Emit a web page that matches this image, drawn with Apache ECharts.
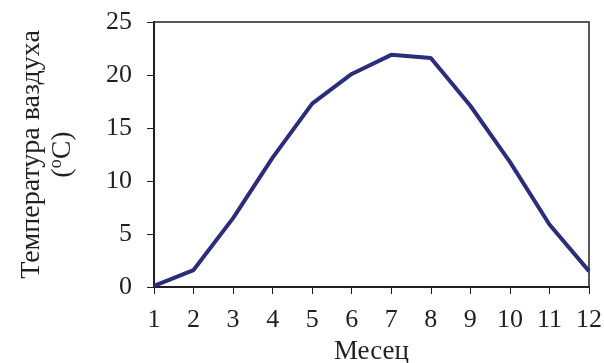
<!DOCTYPE html>
<html><head><meta charset="utf-8">
<script src="https://cdn.jsdelivr.net/npm/echarts@6/dist/echarts.min.js"></script>
<style>html,body{margin:0;padding:0;background:#fff}#c{width:604px;height:363px}</style>
</head><body><div id="c"></div>
<script>
const months = ['1','2','3','4','5','6','7','8','9','10','11','12'];
const temps = [0.1, 1.6, 6.5, 12.2, 17.3, 20.1, 21.9, 21.6, 17.1, 11.8, 5.9, 1.5];
const yTicks = {min: 0, max: 25, interval: 5};
const xName = 'Месец';
const yNameLine1 = 'Температура ваздуха';

const font = '"Liberation Serif", "Times New Roman", serif';
const txt = '#231F20';
const chart = echarts.init(document.getElementById('c'), null, {renderer: 'canvas'});
chart.setOption({
  animation: false,
  textStyle: {fontFamily: font},
  grid: {left: 154, right: 15, top: 22, bottom: 76, outerBoundsMode: 'none', containLabel: false,
         show: true, borderColor: '#231F20', borderWidth: 1.5, backgroundColor: 'transparent'},
  xAxis: {
    type: 'category', data: months, boundaryGap: false,
    name: xName, nameLocation: 'middle', nameGap: 51,
    nameTextStyle: {fontFamily: font, fontSize: 27, color: txt},
    axisLine: {lineStyle: {color: '#231F20', width: 2}},
    axisTick: {alignWithLabel: true, length: 7, lineStyle: {color: '#231F20', width: 1}},
    axisLabel: {fontFamily: font, fontSize: 26, color: txt, margin: 20},
    splitLine: {show: false}
  },
  yAxis: {
    type: 'value', min: yTicks.min, max: yTicks.max, interval: yTicks.interval,
    name: '{a|' + yNameLine1 + '}\n{a|(}{s|o}{a|C)}', nameLocation: 'middle', nameGap: 76,
    nameTextStyle: {fontFamily: font, color: txt, lineHeight: 31,
      rich: {a: {fontFamily: font, fontSize: 28, color: txt, lineHeight: 31},
             s: {fontFamily: font, fontSize: 18, color: txt, verticalAlign: 'top', padding: [0,0,8,0], lineHeight: 31}}},
    axisLine: {show: true, lineStyle: {color: '#231F20', width: 2}},
    axisTick: {show: true, length: 7, lineStyle: {color: '#231F20', width: 1}},
    axisLabel: {fontFamily: font, fontSize: 26, color: txt, margin: 22},
    splitLine: {show: false}
  },
  series: [{
    type: 'line', data: temps, symbol: 'none',
    lineStyle: {color: '#2B2C7A', width: 4}
  }]
});
</script></body></html>
